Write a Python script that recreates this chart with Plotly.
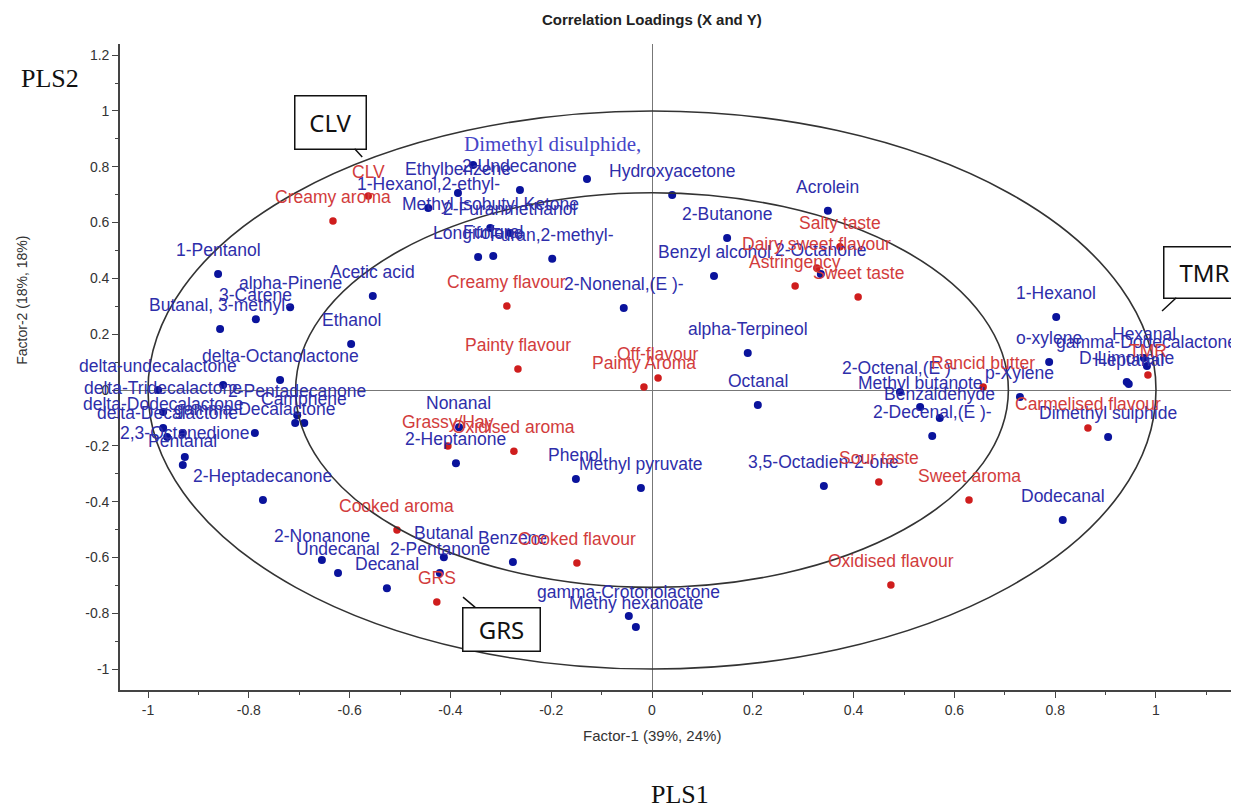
import plotly.graph_objects as go

# ---------------- data ----------------
# X-variables (volatiles), blue
x_names = [
    "Dimethyl disulphide,", "", "2-Undecanone", "Ethylbenzene", "Hydroxyacetone",
    "Acrolein", "1-Hexanol,2-ethyl-", "Methyl Isobutyl Ketone", "2-Furanmethanol",
    "Longifolene", "Furfural", "Furan,2-methyl-", "2-Butanone", "Benzyl alcohol",
    "2-Octanone", "2-Nonenal,(E )-", "1-Pentanol", "alpha-Pinene", "3-Carene",
    "Butanal, 3-methyl-", "Acetic acid", "Ethanol", "delta-Octanolactone",
    "delta-undecalactone", "", "delta-Tridecalactone", "delta-Dodecalactone",
    "delta-Decalactone", "", "gamma-Decalactone", "2-Pentadecanone", "Camphene", "",
    "2,3-Octanedione", "Pentanal", "2-Heptadecanone", "2-Nonanone", "Undecanal",
    "Decanal", "Butanal", "2-Pentanone", "Benzene", "gamma-Crotonolactone",
    "Methy hexanoate", "Nonanal", "2-Heptanone", "Phenol", "Methyl pyruvate",
    "alpha-Terpineol", "Octanal", "3,5-Octadien-2-one", "2-Octenal,(E )-",
    "Methyl butanote", "Benzaldehyde", "2-Decenal,(E )-", "p-Xylene", "o-xylene",
    "1-Hexanol", "Hexanal", "gamma-Dodecalactone", "D-Limonene", "Heptanal",
    "Dimethyl sulphide", "Dodecanal",
]
x_factor1 = [
    -0.355, -0.129, -0.262, -0.385, 0.040,
    0.349, -0.444, -0.321, -0.282,
    -0.345, -0.315, -0.198, 0.149, 0.123,
    0.335, -0.056, -0.861, -0.718, -0.786,
    -0.857, -0.554, -0.597, -0.738,
    -0.980, -0.851, -0.970, -0.970,
    -0.962, -0.931, -0.788, -0.704, -0.690, -0.708,
    -0.927, -0.931, -0.772, -0.655, -0.623,
    -0.526, -0.413, -0.421, -0.276, -0.046,
    -0.032, -0.383, -0.389, -0.151, -0.022,
    0.190, 0.210, 0.341, 0.492,
    0.532, 0.571, 0.556, 0.730, 0.788,
    0.802, 0.976, 0.982, 0.942, 0.946,
    0.905, 0.815,
]
x_factor2 = [
    0.806, 0.756, 0.717, 0.706, 0.699,
    0.642, 0.652, 0.581, 0.563,
    0.477, 0.480, 0.470, 0.545, 0.409,
    0.416, 0.294, 0.416, 0.297, 0.254,
    0.219, 0.337, 0.165, 0.036,
    0.000, 0.018, -0.079, -0.136,
    -0.168, -0.154, -0.154, -0.090, -0.118, -0.118,
    -0.240, -0.269, -0.394, -0.609, -0.656,
    -0.710, -0.599, -0.656, -0.616, -0.810,
    -0.849, -0.133, -0.262, -0.319, -0.351,
    0.133, -0.054, -0.344, -0.007,
    -0.061, -0.100, -0.165, -0.025, 0.100,
    0.262, 0.115, 0.086, 0.029, 0.022,
    -0.168, -0.466,
]

# Y-variables (sensory attributes and samples), red
y_names = [
    "Creamy aroma", "CLV", "Salty taste", "Dairy sweet flavour", "Astringency",
    "Sweet taste", "Creamy flavour", "Painty flavour", "Off-flavour", "Painty Aroma",
    "Grassy/Hay", "Oxidised aroma", "Cooked aroma", "Cooked flavour", "GRS",
    "Oxidised flavour", "Sour taste", "Sweet aroma", "Rancid butter",
    "Carmelised flavour", "TMR",
]
y_factor1 = [
    -0.633, -0.563, 0.373, 0.327, 0.284,
    0.409, -0.288, -0.266, 0.012, -0.016,
    -0.405, -0.274, -0.506, -0.149, -0.427,
    0.474, 0.450, 0.629, 0.657,
    0.865, 0.984,
]
y_factor2 = [
    0.606, 0.695, 0.513, 0.437, 0.373,
    0.333, 0.301, 0.075, 0.043, 0.011,
    -0.201, -0.219, -0.502, -0.620, -0.760,
    -0.699, -0.330, -0.394, 0.011,
    -0.136, 0.054,
]

# sample call-outs: label and the loading point the bubble points at
callout_names = ["CLV", "TMR", "GRS"]
callout_f1 = [-0.575, 1.012, -0.375]
callout_f2 = [0.835, 0.283, -0.742]

xtick_vals = [-1, -0.8, -0.6, -0.4, -0.2, 0, 0.2, 0.4, 0.6, 0.8, 1]
xtick_text = ["-1", "-0.8", "-0.6", "-0.4", "-0.2", "0", "0.2", "0.4", "0.6", "0.8", "1"]
ytick_vals = [-1, -0.8, -0.6, -0.4, -0.2, 0, 0.2, 0.4, 0.6, 0.8, 1, 1.2]
ytick_text = ["-1", "-0.8", "-0.6", "-0.4", "-0.2", "0", "0.2", "0.4", "0.6", "0.8", "1", "1.2"]

circle_radii = [1.0, 0.7071]

# ---------------- styling ----------------
SANS = "Arial, Liberation Sans, sans-serif"
SERIF = "Times New Roman, Liberation Serif, serif"
BLUE_DOT = "#0a139c"
BLUE_TXT = "#2e2eaa"
RED_DOT = "#cf1d1d"
RED_TXT = "#d23c3c"
LABEL_SIZE = 17.5
LABEL_SHIFT = 24

fig = go.Figure()

fig.add_trace(go.Scatter(
    x=x_factor1, y=x_factor2, mode="markers",
    marker=dict(color=BLUE_DOT, size=8), hoverinfo="text", text=x_names,
    showlegend=False,
))
fig.add_trace(go.Scatter(
    x=y_factor1, y=y_factor2, mode="markers",
    marker=dict(color=RED_DOT, size=7.5), hoverinfo="text", text=y_names,
    showlegend=False,
))

annotations = []
for name, a, b in zip(x_names, x_factor1, x_factor2):
    if not name:
        continue
    if name == "Dimethyl disulphide,":
        annotations.append(dict(
            x=a, y=b, text=name, showarrow=False, xanchor="left", xshift=-11,
            yshift=21, font=dict(family=SERIF, size=21, color="#4646c8"),
        ))
        continue
    annotations.append(dict(
        x=a, y=b, text=name, showarrow=False, yshift=LABEL_SHIFT,
        font=dict(family=SANS, size=LABEL_SIZE, color=BLUE_TXT),
    ))
for name, a, b in zip(y_names, y_factor1, y_factor2):
    annotations.append(dict(
        x=a, y=b, text=name, showarrow=False, yshift=LABEL_SHIFT,
        font=dict(family=SANS, size=LABEL_SIZE, color=RED_TXT),
    ))

# call-out bubbles: (ax, ay, width, height) in pixels
bubble_offsets = {"CLV": (-32, -35, 62, 44), "TMR": (42, -39, 72, 42), "GRS": (38, 32, 68, 34)}
for name, a, b in zip(callout_names, callout_f1, callout_f2):
    ax, ay, w, h = bubble_offsets[name]
    annotations.append(dict(
        x=a, y=b, text=name, showarrow=True, arrowhead=0, arrowwidth=1.5,
        arrowcolor="#111", ax=ax, ay=ay, bgcolor="white", bordercolor="#111",
        borderwidth=1.5, borderpad=4, width=w, height=h,
        font=dict(family="Noto Sans, Open Sans, sans-serif", size=24, color="#111"),
    ))

# titles / extra text
annotations += [
    dict(xref="paper", yref="paper", x=0.4754, y=-0.0697, text="Factor-1 (39%, 24%)",
         xanchor="center", yanchor="middle", showarrow=False,
         font=dict(family=SANS, size=15, color="#333")),
    dict(xref="paper", yref="paper", x=-0.0876, y=0.604, text="Factor-2 (18%, 18%)",
         xanchor="center", yanchor="middle", textangle=-90, showarrow=False,
         font=dict(family=SANS, size=14, color="#333")),
    dict(xref="paper", yref="paper", x=0.5004, y=-0.1625, text="PLS1",
         xanchor="center", yanchor="middle", showarrow=False,
         font=dict(family=SERIF, size=26, color="#111")),
    dict(xref="paper", yref="paper", x=-0.0626, y=0.947, text="PLS2",
         xanchor="center", yanchor="middle", showarrow=False,
         font=dict(family=SERIF, size=26, color="#111")),
]

shapes = []
for r in circle_radii:
    shapes.append(dict(type="circle", xref="x", yref="y", x0=-r, x1=r, y0=-r, y1=r,
                       line=dict(color="#333", width=1.6)))

axis_common = dict(
    showgrid=False, zeroline=True, zerolinecolor="#777", zerolinewidth=1,
    showline=True, linecolor="#444", linewidth=1.6, ticks="outside", ticklen=6,
    tickcolor="#444", tickfont=dict(family=SANS, size=14, color="#333"),
    minor=dict(dtick=0.1, ticks="outside", ticklen=3, tickcolor="#444", showgrid=False),
)

# the page body adds an 8px margin, so the figure is sized to fit inside it
fig.update_layout(
    width=1231, height=801,
    margin=dict(l=112, r=0, t=36, b=119),
    paper_bgcolor="white", plot_bgcolor="white",
    title=dict(text="<b>Correlation Loadings (X and Y)</b>", x=0.523, xanchor="center",
               y=0.985, yanchor="middle", font=dict(family=SANS, size=15, color="#222")),
    xaxis=dict(range=[-1.0556, 1.1647], tickvals=xtick_vals, ticktext=xtick_text,
               **axis_common),
    yaxis=dict(range=[-1.075, 1.240], tickvals=ytick_vals, ticktext=ytick_text,
               **axis_common),
    annotations=annotations,
    shapes=shapes,
)

fig.write_html("out.html")
